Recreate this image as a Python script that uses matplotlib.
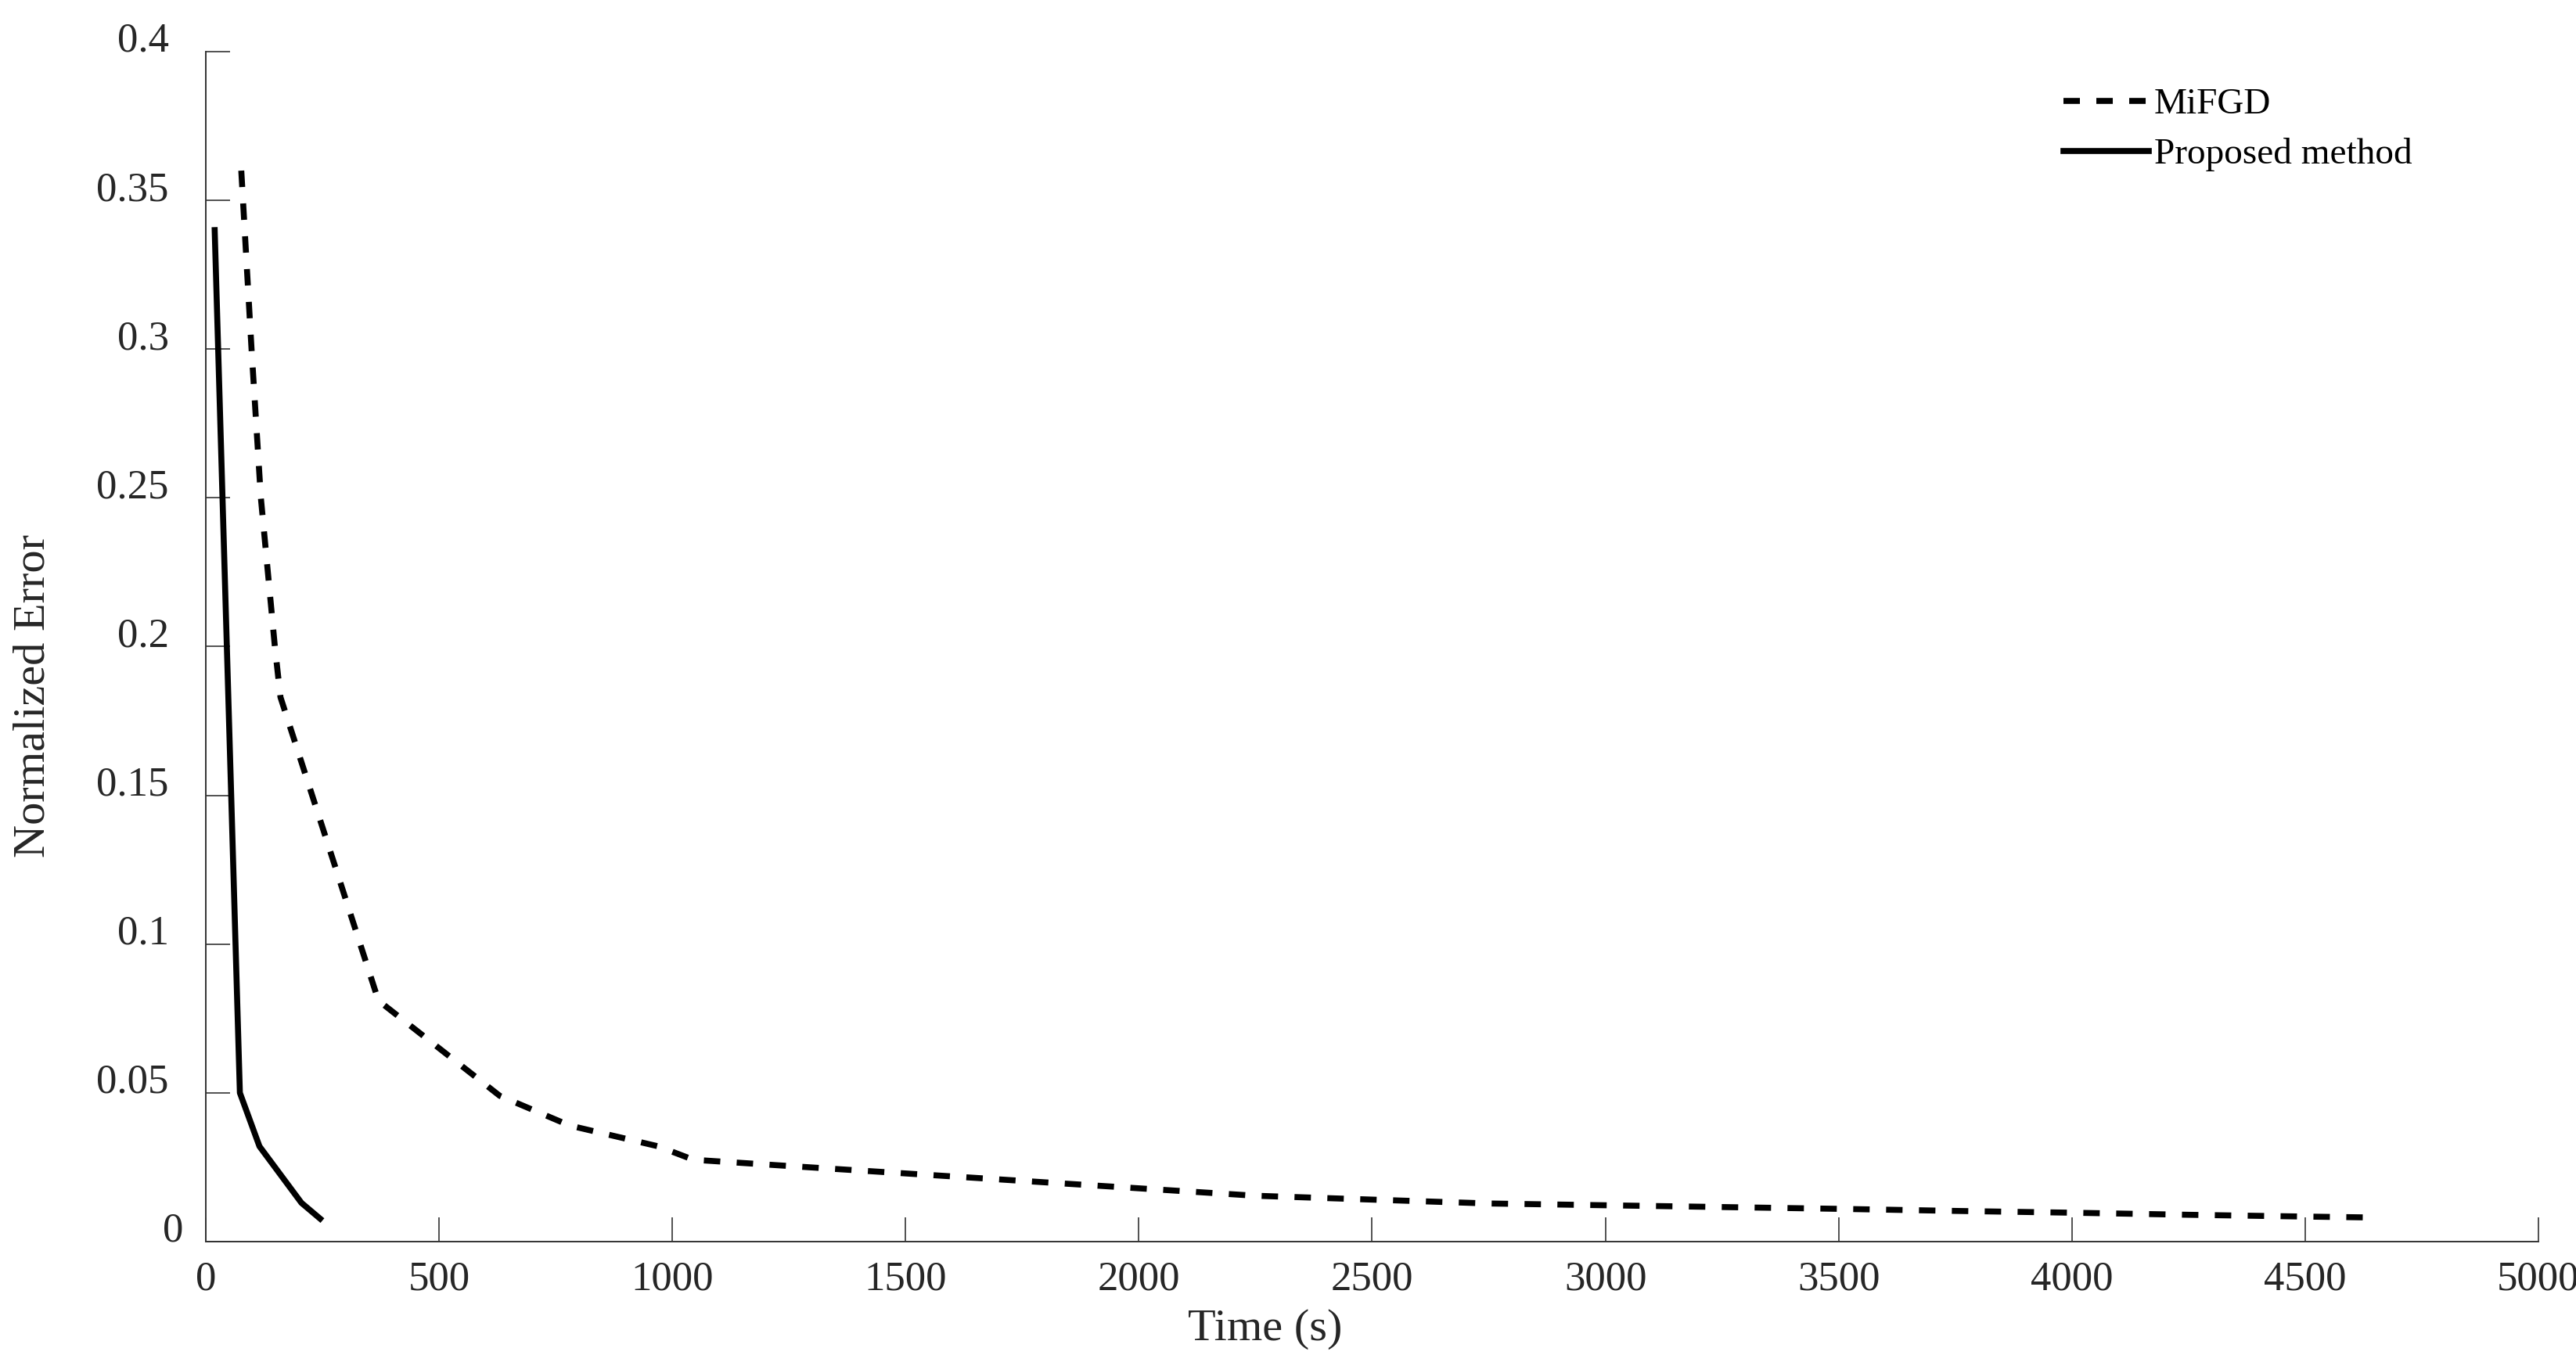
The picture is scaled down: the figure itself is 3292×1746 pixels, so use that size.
import matplotlib
matplotlib.use('Agg')
import matplotlib.pyplot as plt
import matplotlib.transforms as mtransforms

# Dados
tempo_mifgd = [76, 98, 118, 148, 160, 370, 630, 780, 970, 1045, 1250, 1500, 1750,
               2000, 2250, 2500, 2750, 3000, 3250, 3500, 3750, 4000, 4250, 4500, 4640]
erro_mifgd = [0.360, 0.300, 0.250, 0.200, 0.183, 0.081, 0.049, 0.039, 0.032, 0.0275,
              0.0254, 0.0229, 0.0204, 0.0179, 0.0154, 0.0141, 0.0128, 0.0122, 0.0116,
              0.0110, 0.0103, 0.0097, 0.0090, 0.0084, 0.0081]

tempo_proposto = [19, 73, 115, 205, 245]
erro_proposto = [0.340, 0.050, 0.032, 0.013, 0.0077]

xticks = list(range(0, 5001, 500))
yticks = [0, 0.05, 0.1, 0.15, 0.2, 0.25, 0.3, 0.35, 0.4]
ytick_labels = ['0', '0.05', '0.1', '0.15', '0.2', '0.25', '0.3', '0.35', '0.4']

plt.rcParams['font.family'] = ['Liberation Serif', 'DejaVu Serif']

fig = plt.figure(figsize=(32.92, 17.46), dpi=100)
ax = fig.add_axes([0.0799, 0.0911, 0.9854 - 0.0799, 0.9622 - 0.0911])

ax.plot(tempo_mifgd, erro_mifgd, color='black', lw=5.5, dashes=(2.75, 2.75), label='MiFGD')
ax.plot(tempo_proposto, erro_proposto, color='black', lw=5.5, label='Proposed method')

ax.set_xlim(0, 5000)
ax.set_ylim(0, 0.4)
ax.set_xticks(xticks)
ax.set_yticks(yticks)
ax.set_yticklabels(ytick_labels)

for lado in ['top', 'right']:
    ax.spines[lado].set_visible(False)
for lado in ['left', 'bottom']:
    ax.spines[lado].set_color('#333333')
    ax.spines[lado].set_linewidth(1.4)

ax.tick_params(axis='both', direction='in', length=22, width=1.2, color='#333333',
               labelsize=38, labelcolor='#262626')
ax.tick_params(axis='x', pad=18)
ax.tick_params(axis='y', pad=34)
for lbl in ax.get_yticklabels():
    lbl.set_verticalalignment('baseline')
# o "0" do eixo y fica mais perto do eixo
zero = ax.get_yticklabels()[0]
zero.set_transform(zero.get_transform() +
                   mtransforms.ScaledTranslation(0.19, 0, fig.dpi_scale_trans))

fig.text(0.4912, 0.0189, 'Time (s)', fontsize=42, color='#262626',
         ha='center', va='baseline')
fig.text(0.013, 0.4903, 'Normalized Error', fontsize=42, color='#262626',
         ha='center', va='center', rotation=90)

leg = ax.legend(loc='upper left', bbox_to_anchor=(2637 / 3292, 1 - 112 / 1746),
                bbox_transform=fig.transFigure, frameon=False, fontsize=34,
                handlelength=2.3, handletextpad=0.15, labelspacing=0.45,
                borderpad=0, borderaxespad=0)

fig.savefig('out.png', dpi=100)
